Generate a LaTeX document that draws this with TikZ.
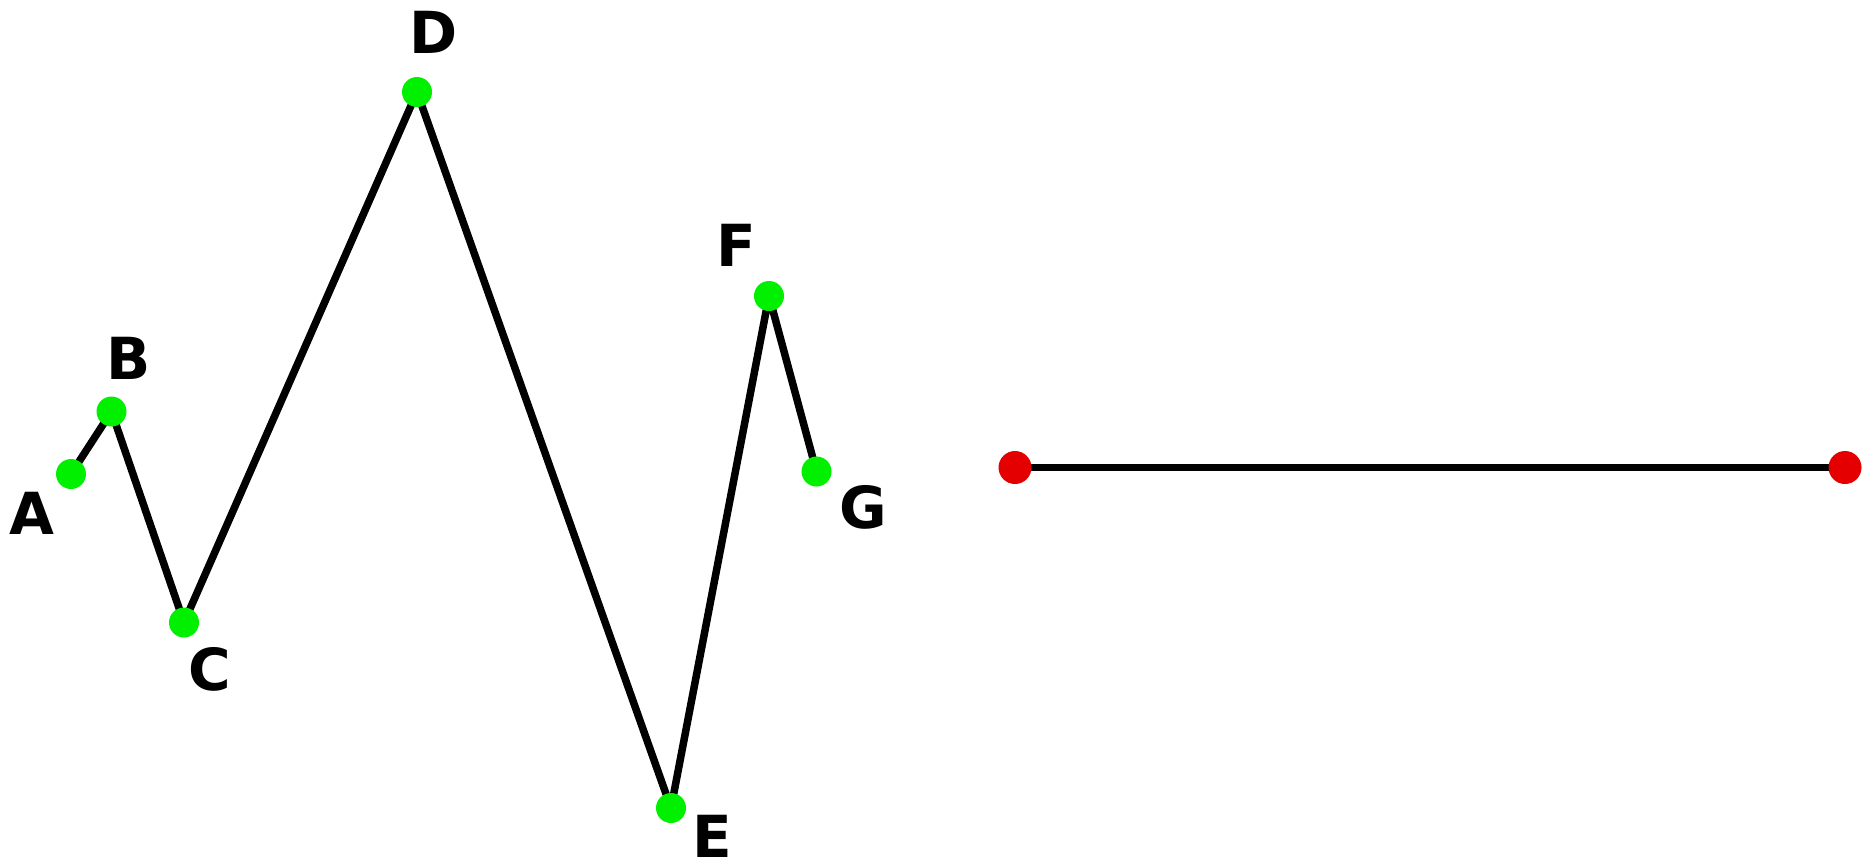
\documentclass[tikz,border=0pt]{standalone}
\usepackage{fontspec}
\setmainfont{DejaVu Sans}
\definecolor{ptgreen}{RGB}{0,240,0}
\definecolor{ptred}{RGB}{228,0,0}
\begin{document}
\begin{tikzpicture}[x=1pt,y=-1pt,
  gdot/.style={circle,fill=ptgreen,minimum size=30pt,inner sep=0pt},
  rdot/.style={circle,fill=ptred,minimum size=33pt,inner sep=0pt},
  lab/.style={font=\fontsize{58}{60}\selectfont\bfseries,inner sep=0pt},
  seg/.style={line width=7.5pt,black,line join=round}]
\useasboundingbox (0,0) rectangle (1873,865);
\coordinate (A) at (71,474);
\coordinate (B) at (111.5,411.5);
\coordinate (C) at (184,622.5);
\coordinate (D) at (417,92);
\coordinate (E) at (671,808);
\coordinate (F) at (769,296);
\coordinate (G) at (816.5,471.5);
\coordinate (L) at (1015,467.5);
\coordinate (R) at (1845,467.5);
\draw[seg] (A) -- (B) -- (C) -- (D) -- (E) -- (F) -- (G);
\draw[seg] (L) -- (R);
\node[gdot] (nA) at (A) {};
\node[gdot] (nB) at (B) {};
\node[gdot] (nC) at (C) {};
\node[gdot] (nD) at (D) {};
\node[gdot] (nE) at (E) {};
\node[gdot] (nF) at (F) {};
\node[gdot] (nG) at (G) {};
\node[rdot] (nL) at (L) {};
\node[rdot] (nR) at (R) {};
\node[lab] (tA) at (32,513) {A};
\node[lab] (tB) at (129,358) {B};
\node[lab] (tC) at (210,669) {C};
\node[lab] (tD) at (434,32) {D};
\node[lab] (tE) at (712,836) {E};
\node[lab] (tF) at (736,245) {F};
\node[lab] (tG) at (863,507) {G};
\end{tikzpicture}
\end{document}
